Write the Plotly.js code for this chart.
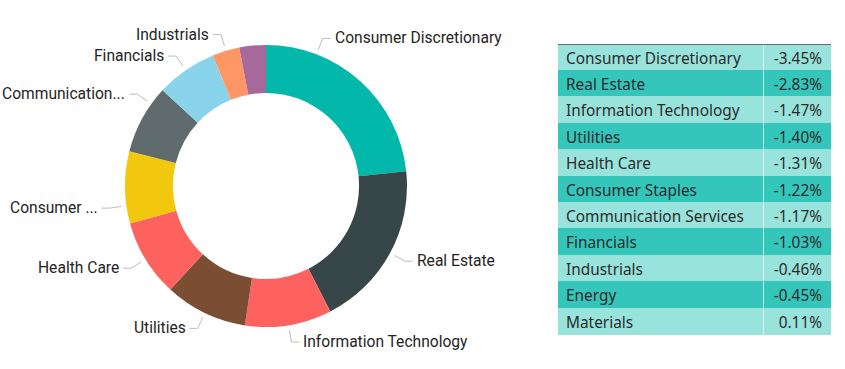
<!DOCTYPE html>
<html><head><meta charset="utf-8">
<script src="https://cdn.plot.ly/plotly-3.0.1.min.js"></script>
<style>html,body{margin:0;padding:0;background:#fff}#chart{width:845px;height:369px}</style>
</head><body><div id="chart"></div>
<script>
// ---- data ----
const sectors = ["Consumer Discretionary","Real Estate","Information Technology","Utilities","Health Care","Consumer Staples","Communication Services","Financials","Industrials","Energy","Materials"];
const changes = [-3.45,-2.83,-1.47,-1.40,-1.31,-1.22,-1.17,-1.03,-0.46,-0.45,0.11];
const donutSectors = ["Consumer Discretionary","Real Estate","Information Technology","Utilities","Health Care","Consumer Staples","Communication Services","Financials","Industrials","Energy"];
const donutValues = [3.45,2.83,1.47,1.40,1.31,1.22,1.17,1.03,0.46,0.45];
const donutLabelText = ["Consumer Discretionary","Real Estate","Information Technology","Utilities","Health Care","Consumer ...","Communication...","Financials","Industrials",""];

// ---- styling ----
const sliceColors = ["#01B8AA","#374649","#FD625E","#7B4D33","#FD625E","#F2C80F","#5F6B6D","#8AD4EB","#FE9666","#A66999"];
const W = 845, H = 369, cx = 266, cy = 186, R = 141;
const labelShift = {"Consumer Discretionary": -21, "Consumer Staples": -7.5, "Communication Services": 7};
const px = x => x / W, py = y => 1 - y / H;

const total = donutValues.reduce((a,b)=>a+b,0);
const shapes = [], annotations = [];
let cum = 0;
donutValues.forEach((v,i)=>{
  const mid = (cum + v/2) / total * 360 + (labelShift[donutSectors[i]] || 0);
  cum += v;
  if (!donutLabelText[i]) return;
  const a = mid * Math.PI / 180;
  const sx = Math.sin(a), sy = -Math.cos(a);
  const x1 = cx + (R+5)*sx, y1 = cy + (R+5)*sy;
  const x2 = cx + (R+17)*sx, y2 = cy + (R+17)*sy;
  const dir = sx >= 0 ? 1 : -1;
  const x3 = x2 + 8*dir;
  shapes.push({type:'path', xref:'paper', yref:'paper',
    path:`M ${px(x1)} ${py(y1)} L ${px(x2)} ${py(y2)} L ${px(x3)} ${py(y2)}`,
    line:{color:'#BDBDBD', width:1}});
  annotations.push({xref:'paper', yref:'paper', x:px(x3 + 3*dir), y:py(y2),
    xanchor: dir>0 ? 'left':'right', yanchor:'middle', showarrow:false, borderpad:0,
    text: donutLabelText[i], font:{family:'Roboto, sans-serif', size:15.6, color:'#252423'}});
});

const rowFill = sectors.map((s,i)=> i%2===0 ? '#98E3DB' : '#34C5BB');
const changeText = changes.map(v => v.toFixed(2) + '%');

// table borders
shapes.push({type:'line', xref:'paper', yref:'paper', x0:px(558), x1:px(831), y0:py(44.5), y1:py(44.5), line:{color:'#6b6b6b', width:1}});
shapes.push({type:'line', xref:'paper', yref:'paper', x0:px(763.5), x1:px(763.5), y0:py(45), y1:py(335), line:{color:'rgba(255,255,255,0.65)', width:1}});

const data = [
  {type:'pie', labels:donutSectors, values:donutValues, hole:0.66, sort:false, direction:'clockwise', rotation:0,
   marker:{colors:sliceColors, line:{width:0}}, textinfo:'none', hoverinfo:'label+value', showlegend:false,
   domain:{x:[px(cx-R), px(cx+R)], y:[(H-cy-R)/H, (H-cy+R)/H]}},
  {type:'table', domain:{x:[px(558), px(831)], y:[0, py(28)]}, columnwidth:[205,68],
   header:{values:[], height:0, line:{width:0}, fill:{color:'rgba(0,0,0,0)'}},
   cells:{values:[sectors, changeText], align:['left','right'], height:26.4,
     fill:{color:[rowFill,rowFill]}, line:{color:[rowFill,rowFill], width:1},
     font:{family:'Noto Sans, sans-serif', size:15.4, color:'#2b2b2b'}}}
];
const layout = {width:W, height:H, margin:{l:0,r:0,t:0,b:0}, paper_bgcolor:'#fff', plot_bgcolor:'#fff',
  showlegend:false, shapes, annotations};
Plotly.newPlot('chart', data, layout, {displayModeBar:false, staticPlot:true});
</script></body></html>
